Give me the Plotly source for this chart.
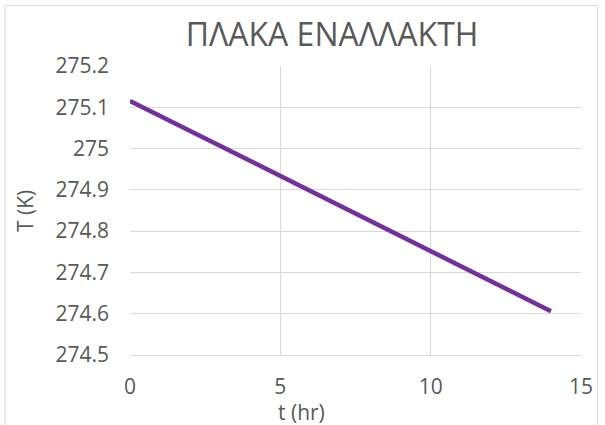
import plotly.graph_objects as go

# Plate temperature over time
t_hr = [0, 14]
temp_k = [275.1155, 274.606]

x_ticks = [0, 5, 10, 15]
y_ticks = [274.5, 274.6, 274.7, 274.8, 274.9, 275.0, 275.1, 275.2]
y_tick_text = ["274.5", "274.6", "274.7", "274.8", "274.9", "275", "275.1", "275.2"]

W, H = 605, 425
L, R, T, B = 130, 22, 66, 70
plot_w = W - L - R
plot_h = H - T - B

font_family = "Open Sans, DejaVu Sans, sans-serif"
text_color = "#595959"
grid_color = "#d9d9d9"

fig = go.Figure()
fig.add_trace(go.Scatter(
    x=t_hr, y=temp_k, mode="lines",
    line=dict(color="#7030a0", width=4.5),
    hoverinfo="skip", showlegend=False,
))

fig.update_layout(
    width=W, height=H,
    margin=dict(l=L, r=R, t=T, b=B, pad=0),
    paper_bgcolor="white", plot_bgcolor="white",
    font=dict(family=font_family, color=text_color, size=21),
    title=dict(
        text="ΠΛΑΚΑ ΕΝΑΛΛΑΚΤΗ",
        font=dict(family=font_family, size=32, color=text_color),
        x=332 / W, xanchor="center",
        y=1 - 35 / H, yanchor="middle", yref="container",
    ),
    xaxis=dict(
        range=[0, 15], tickvals=x_ticks, ticks="",
        showgrid=True, gridcolor=grid_color, gridwidth=1,
        showline=True, linecolor=grid_color, linewidth=1,
        zeroline=False, ticklabelstandoff=13,
        tickfont=dict(size=21, color=text_color),
    ),
    yaxis=dict(
        range=[274.5, 275.2], tickvals=y_ticks, ticktext=y_tick_text, ticks="",
        showgrid=True, gridcolor=grid_color, gridwidth=1,
        showline=False, zeroline=False, ticklabelstandoff=20,
        tickfont=dict(size=21, color=text_color),
    ),
    annotations=[
        # axis titles, placed in pixel terms relative to the plot area
        dict(
            text="t (hr)", xref="paper", yref="paper",
            x=(302 - L) / plot_w, y=-(412 - (T + plot_h)) / plot_h,
            xanchor="center", yanchor="middle", showarrow=False,
            font=dict(size=21, color=text_color),
        ),
        dict(
            text="T (K)", xref="paper", yref="paper",
            x=(24 - L) / plot_w, y=0.5, textangle=-90,
            xanchor="center", yanchor="middle", showarrow=False,
            font=dict(size=21, color=text_color),
        ),
    ],
)

# Light frame around the whole chart area
fig.add_shape(
    type="rect", xref="paper", yref="paper",
    x0=(4.5 - L) / plot_w, x1=(599.5 - L) / plot_w,
    y0=-(440 - (T + plot_h)) / plot_h, y1=1 + (T - 5.5) / plot_h,
    line=dict(color=grid_color, width=1), fillcolor="rgba(0,0,0,0)",
    layer="below",
)

fig.write_html("out.html")
